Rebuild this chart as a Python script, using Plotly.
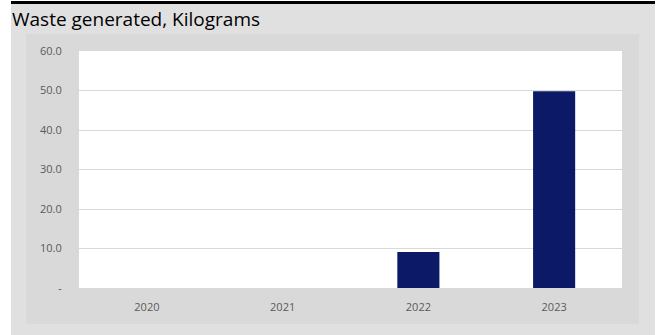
import plotly.graph_objects as go

# Data
years = ["2020", "2021", "2022", "2023"]
waste_kg = [0, 0, 9.1, 49.8]
y_ticks = [0, 10, 20, 30, 40, 50, 60]
y_tick_labels = ["-", "10.0", "20.0", "30.0", "40.0", "50.0", "60.0"]

W, H = 662, 335
ML, MR, MT, MB = 79, 40, 51, 47
PW, PH = W - ML - MR, H - MT - MB


def px(x):
    return (x - ML) / PW


def py(y):
    return (H - MB - y) / PH


fig = go.Figure(
    go.Bar(
        x=years,
        y=waste_kg,
        marker=dict(color="#0B1966", line=dict(width=0)),
        hoverinfo="x+y",
    )
)

shapes = [
    # outer panel
    dict(type="rect", xref="paper", yref="paper", x0=px(11), x1=px(655), y0=py(335), y1=py(3),
         fillcolor="#E0E0E0", line=dict(width=0), layer="below"),
    # inner chart frame
    dict(type="rect", xref="paper", yref="paper", x0=px(26), x1=px(639), y0=py(324), y1=py(34),
         fillcolor="#D9D9D9", line=dict(width=0), layer="below"),
    # plotting area
    dict(type="rect", xref="paper", yref="paper", x0=0, x1=1, y0=0, y1=1,
         fillcolor="#FFFFFF", line=dict(width=0), layer="below"),
    # top rule
    dict(type="rect", xref="paper", yref="paper", x0=px(11), x1=px(655), y0=py(4), y1=py(1),
         fillcolor="#000000", line=dict(width=0), layer="below"),
]

fig.update_layout(
    width=W,
    height=H,
    autosize=False,
    margin=dict(l=ML, r=MR, t=MT, b=MB, pad=0),
    paper_bgcolor="#FFFFFF",
    plot_bgcolor="rgba(0,0,0,0)",
    shapes=shapes,
    bargap=0.69,
    showlegend=False,
    font=dict(family="Open Sans, Noto Sans, sans-serif", color="#595959", size=11),
    annotations=[
        dict(text="Waste generated, Kilograms", xref="paper", yref="paper",
             x=px(10), y=py(19), xanchor="left", yanchor="middle", showarrow=False,
             font=dict(family="Open Sans, Noto Sans, sans-serif", size=19, color="#000000")),
    ],
    xaxis=dict(
        type="category",
        showgrid=False,
        zeroline=False,
        showline=False,
        ticks="outside",
        ticklen=9,
        tickcolor="rgba(0,0,0,0)",
        tickfont=dict(size=11, color="#595959"),
    ),
    yaxis=dict(
        range=[0, 60],
        tickvals=y_ticks,
        ticktext=y_tick_labels,
        showgrid=True,
        gridcolor="#D9D9D9",
        gridwidth=1,
        zeroline=False,
        showline=False,
        ticks="outside",
        ticklen=14,
        tickcolor="rgba(0,0,0,0)",
        tickfont=dict(size=11, color="#595959"),
    ),
)

fig.write_html("out.html")
